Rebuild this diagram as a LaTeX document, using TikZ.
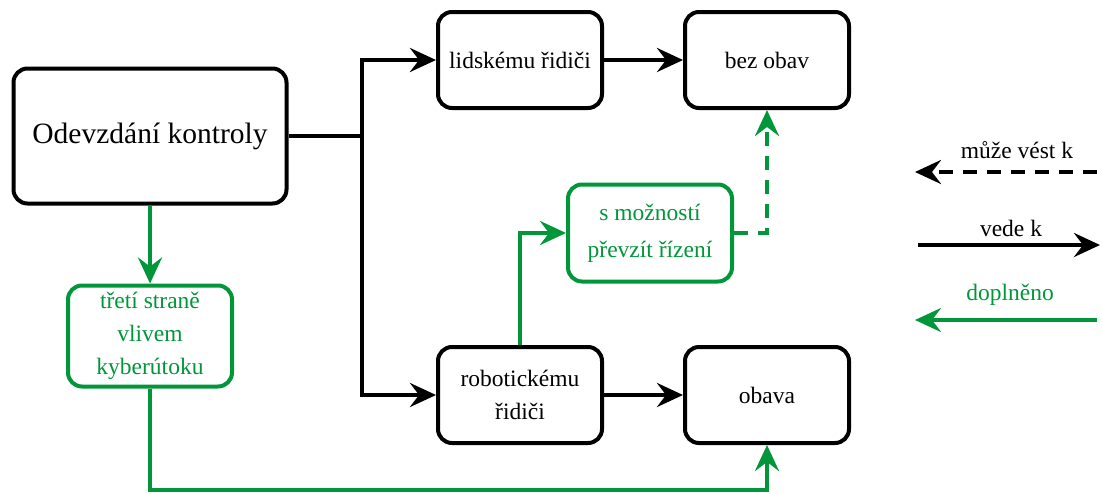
\documentclass[tikz,border=0pt]{standalone}
\usepackage{fontspec}
\setmainfont{Liberation Serif}
\usetikzlibrary{arrows.meta}

\definecolor{added}{RGB}{0,150,57}

\begin{document}
\begin{tikzpicture}[x=1pt,y=-1pt,
    box/.style={draw, line width=4pt, rounded corners=14pt, minimum width=164pt,
      minimum height=96pt, align=center, font=\fontsize{23.5}{33}\selectfont},
    addedbox/.style={box, draw=added, text=added},
    leads/.style={line width=4pt, -{Stealth[length=26pt,width=24pt,inset=9pt]}},
    mayleads/.style={leads, dash pattern=on 14pt off 10pt},
    label/.style={font=\fontsize{23.5}{28}\selectfont}]

    % Fix the page size
    \useasboundingbox (0,0) rectangle (1102,493);

    % Main boxes
    \node[box, minimum width=273pt, minimum height=135pt,
      font=\fontsize{29.5}{34}\selectfont] (handover) at (150,136) {Odevzdání kontroly};
    \node[box] (human) at (520,60) {lidskému řidiči};
    \node[box] (nofear) at (767,60) {bez obav};
    \node[box] (robot) at (520,395) {robotickému\\řidiči};
    \node[box] (fear) at (767,395) {obava};

    % Added boxes
    \node[addedbox, minimum height=97pt, font=\fontsize{23.5}{37}\selectfont]
      (takeover) at (650,233) {s možností\\převzít řízení};
    \node[addedbox, minimum height=101pt] (third) at (150,336) {třetí straně\\vlivem\\kyberútoku};

    % Branch point
    \coordinate (split) at (362,136);

    % Connections
    \draw[line width=4pt] (handover.east) -- (split);
    \draw[leads] (split) |- (human.west);
    \draw[leads] (split) |- (robot.west);
    \draw[leads] (human) -- (nofear);
    \draw[leads] (robot) -- (fear);

    % Added connections
    \draw[leads, added] (handover) -- (third);
    \draw[leads, added] (third.south) -- ++(0,101) -| (fear.south);
    \draw[leads, added] (robot.north) |- (takeover.west);
    \draw[mayleads, added] (takeover.east) -| (nofear.south);

    % Legend
    \coordinate (l1a) at (1097,172);
    \coordinate (l1b) at (915,172);
    \coordinate (l2a) at (918,245);
    \coordinate (l2b) at (1100,245);
    \coordinate (l3a) at (1097,320);
    \coordinate (l3b) at (915,320);
    \draw[mayleads] (l1a) -- (l1b);
    \draw[leads] (l2a) -- (l2b);
    \draw[leads, added] (l3a) -- (l3b);
    \node[label] (lab1) at (1017,150) {může vést k};
    \node[label] (lab2) at (1011,228) {vede k};
    \node[label, text=added] (lab3) at (1010,295) {doplněno};

\end{tikzpicture}
\end{document}
